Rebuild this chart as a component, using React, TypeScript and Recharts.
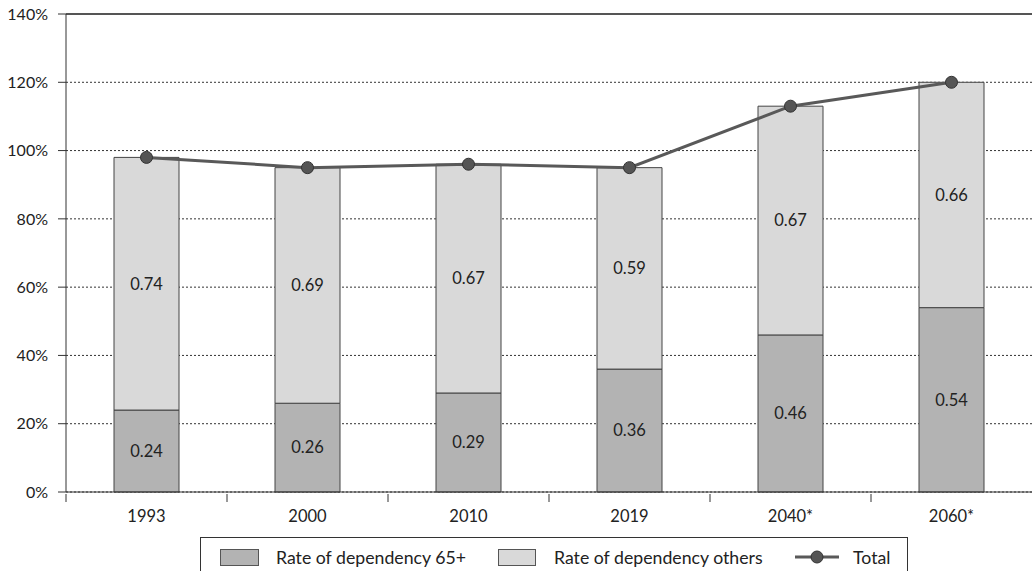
import {
  ComposedChart,
  Bar,
  Line,
  XAxis,
  YAxis,
  CartesianGrid,
  ReferenceLine,
  LabelList,
} from 'recharts';

const years = ['1993', '2000', '2010', '2019', '2040*', '2060*'];
const rate65 = [0.24, 0.26, 0.29, 0.36, 0.46, 0.54];
const rateOthers = [0.74, 0.69, 0.67, 0.59, 0.67, 0.66];
const total = [0.98, 0.95, 0.96, 0.95, 1.13, 1.2];
const yTicks = [0, 0.2, 0.4, 0.6, 0.8, 1.0, 1.2, 1.4];

const data = years.map((year, i) => ({
  year,
  old: rate65[i],
  others: rateOthers[i],
  total: total[i],
}));

const FONT = '"Lato", "Open Sans", sans-serif';
const DARK = '#b3b3b3';
const LIGHT = '#d9d9d9';
const LINE = '#595959';
const TEXT = '#222';

const W = 1033;
const H = 571;
const LEFT = 66;
const RIGHT_EDGE = 1032;
const BAND = (RIGHT_EDGE - LEFT) / years.length;

// category ticks sit on the band boundaries, labels stay centred
const XTick = (props: any) => {
  const { x, y, payload } = props;
  return (
    <g>
      <line x1={x - BAND / 2} x2={x - BAND / 2} y1={y} y2={y + 8} stroke="#333" />
      <text x={x} y={y + 28} textAnchor="middle" fontSize={16.5} fill={TEXT} fontFamily={FONT}>
        {payload.value}
      </text>
    </g>
  );
};

const fmt = (v: any) => Number(v).toFixed(2);

const LegendBox = () => (
  <svg style={{ position: 'absolute', left: 200, top: 537 }} width={709} height={40}>
    <rect x={0.5} y={0.5} width={707} height={60} fill="#fff" stroke="#333" />
    <rect x={20.5} y={12.5} width={38} height={16} fill={DARK} stroke="#555" />
    <text x={76} y={27} fontSize={17.7} fill={TEXT} fontFamily={FONT}>Rate of dependency 65+</text>
    <rect x={298.5} y={12.5} width={37} height={16} fill={LIGHT} stroke="#555" />
    <text x={354} y={27} fontSize={17.7} fill={TEXT} fontFamily={FONT}>Rate of dependency others</text>
    <line x1={595} x2={639} y1={20} y2={20} stroke={LINE} strokeWidth={3} />
    <circle cx={617} cy={20} r={6} fill="#555" stroke="#333" />
    <text x={653} y={27} fontSize={17.7} fill={TEXT} fontFamily={FONT}>Total</text>
  </svg>
);

export default function App() {
  return (
    <div style={{ position: 'absolute', left: 0, top: 0, width: W, height: H, overflow: 'hidden', background: '#fff' }}>
      <ComposedChart
        width={W}
        height={H}
        data={data}
        margin={{ top: 14, right: W - RIGHT_EDGE, bottom: 0, left: 0 }}
      >
        <CartesianGrid vertical={false} stroke="#333" strokeDasharray="2 2" />
        <ReferenceLine y={1.4} stroke="#555" strokeWidth={2} />
        <XAxis
          dataKey="year"
          height={79}
          tickSize={0}
          tickLine={false}
          axisLine={{ stroke: '#333' }}
          tick={<XTick />}
          interval={0}
        />
        <YAxis
          width={LEFT}
          domain={[0, 1.4]}
          ticks={yTicks}
          tickSize={8}
          tickMargin={10}
          axisLine={{ stroke: '#333' }}
          tickLine={{ stroke: '#333' }}
          tick={{ fontSize: 16, fill: TEXT, fontFamily: FONT }}
          tickFormatter={(v: number) => `${Math.round(v * 100)}%`}
        />
        <Bar dataKey="old" stackId="a" fill={DARK} stroke="#444" barSize={65} isAnimationActive={false}>
          <LabelList dataKey="old" position="center" formatter={fmt} fontSize={16.5} fill={TEXT} fontFamily={FONT} />
        </Bar>
        <Bar dataKey="others" stackId="a" fill={LIGHT} stroke="#444" barSize={65} isAnimationActive={false}>
          <LabelList dataKey="others" position="center" formatter={fmt} fontSize={16.5} fill={TEXT} fontFamily={FONT} />
        </Bar>
        <Line
          dataKey="total"
          stroke={LINE}
          strokeWidth={3}
          dot={{ r: 6, fill: '#555', stroke: '#333', strokeWidth: 1 }}
          isAnimationActive={false}
        />
      </ComposedChart>
      <LegendBox />
    </div>
  );
}
